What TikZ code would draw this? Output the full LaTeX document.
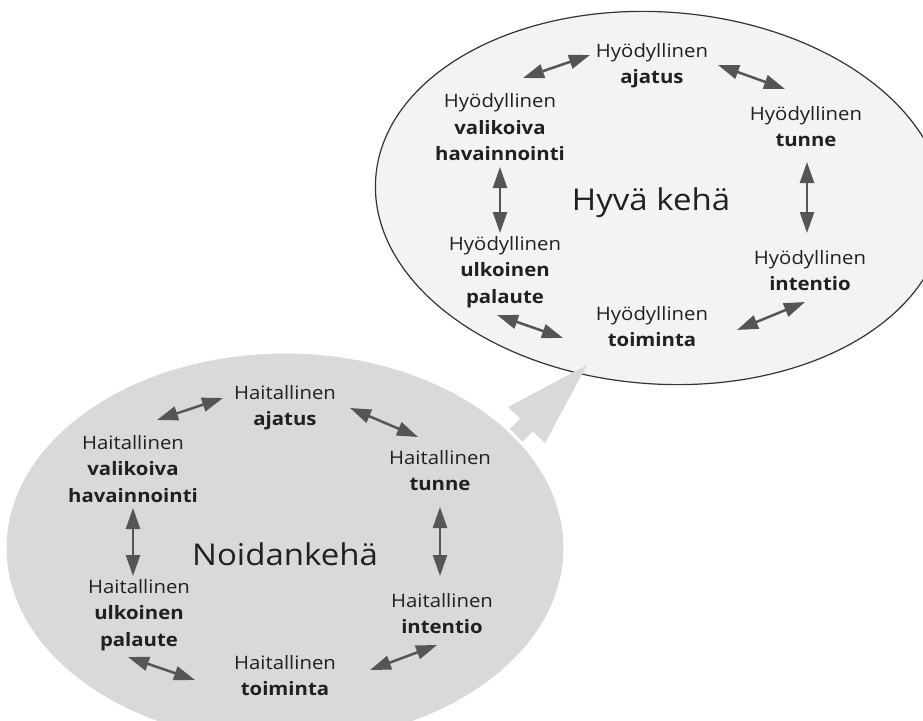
\documentclass[tikz,border=0pt]{standalone}
\usepackage{fontspec}
\setmainfont{Open Sans}[FakeStretch=1.1]
\usetikzlibrary{arrows.meta}

\definecolor{viciousfill}{HTML}{D9D9D9}
\definecolor{virtuousfill}{HTML}{F3F3F3}
\definecolor{linkgray}{HTML}{555555}
\definecolor{inkdark}{HTML}{231F20}

\begin{document}
\begin{tikzpicture}[x=1pt,y=-1pt,
  % anchor=base sits on the baseline of the last line of each label
  lbl/.style={font=\fontsize{18.5}{26.5}\selectfont, align=center,
    inner sep=0pt, text=inkdark, anchor=base},
  ringtitle/.style={font=\fontsize{30}{36}\selectfont, inner sep=0pt,
    text=inkdark, anchor=base},
  link/.style={{Triangle[length=21pt,width=14pt]}-{Triangle[length=21pt,width=14pt]},
    line width=2.5pt, draw=linkgray, fill=linkgray},
]
\fill[white] (0,0) rectangle (923,720);
\useasboundingbox (0,0) rectangle (923,720);
\clip (0,0) rectangle (923,720);

% virtuous circle (upper ellipse)
\draw[line width=1.2pt, draw=black!80, fill=virtuousfill,
      rotate around={-4:(660,198)}]
  (660,198) ellipse [x radius=285pt, y radius=186pt];

% block arrow from the lower ellipse to the upper one
\fill[viciousfill] (587,365) -- (508,407) -- (520.2,418.6) -- (491.8,446.8)
  -- (504.4,459.6) -- (532.8,431.4) -- (545,443) -- cycle;

% vicious circle (lower ellipse); the white rim cuts the arrow shaft
\draw[line width=3pt, draw=white, fill=viciousfill]
  (285,548) ellipse [x radius=280pt, y radius=196pt];

% ---- upper ellipse labels
\node[ringtitle] (hyva) at (651,210) {Hyvä kehä};
\node[lbl] (hA) at (652,83.5)  {Hyödyllinen\\\textbf{ajatus}};
\node[lbl] (hV) at (500,160.5) {Hyödyllinen\\\textbf{valikoiva}\\\textbf{havainnointi}};
\node[lbl] (hT) at (806,146.5) {Hyödyllinen\\\textbf{tunne}};
\node[lbl] (hU) at (505,303)   {Hyödyllinen\\\textbf{ulkoinen}\\\textbf{palaute}};
\node[lbl] (hI) at (810,290.5) {Hyödyllinen\\\textbf{intentio}};
\node[lbl] (hO) at (652,346.5) {Hyödyllinen\\\textbf{toiminta}};

% ---- lower ellipse labels
\node[ringtitle] (noida) at (285,565) {Noidankehä};
\node[lbl] (nA) at (285,425.5) {Haitallinen\\\textbf{ajatus}};
\node[lbl] (nV) at (133,502)   {Haitallinen\\\textbf{valikoiva}\\\textbf{havainnointi}};
\node[lbl] (nT) at (440,490.5) {Haitallinen\\\textbf{tunne}};
\node[lbl] (nU) at (139,646)   {Haitallinen\\\textbf{ulkoinen}\\\textbf{palaute}};
\node[lbl] (nI) at (442,633.5) {Haitallinen\\\textbf{intentio}};
\node[lbl] (nO) at (285,695.5) {Haitallinen\\\textbf{toiminta}};

% ---- arrow end points beside the labels
\coordinate (hVA) at (523,78);  \coordinate (hAV) at (590,55);
\coordinate (hAT) at (718,65);  \coordinate (hTA) at (785,89);
\coordinate (hVU) at (500,167); \coordinate (hUV) at (500,233);
\coordinate (hTI) at (807,162); \coordinate (hIT) at (807,233);
\coordinate (hUO) at (497,315); \coordinate (hOU) at (563,338);
\coordinate (hOI) at (737,330); \coordinate (hIO) at (805,302);

\coordinate (nVA) at (157,420); \coordinate (nAV) at (223,398);
\coordinate (nAT) at (350,408); \coordinate (nTA) at (418,437);
\coordinate (nVU) at (133,508); \coordinate (nUV) at (133,576);
\coordinate (nTI) at (440,507); \coordinate (nIT) at (440,576);
\coordinate (nUO) at (128,657); \coordinate (nOU) at (195,680);
\coordinate (nOI) at (370,670); \coordinate (nIO) at (437,645);

\foreach \a/\b in {hVA/hAV, hAT/hTA, hVU/hUV, hTI/hIT, hUO/hOU, hOI/hIO,
                   nVA/nAV, nAT/nTA, nVU/nUV, nTI/nIT, nUO/nOU, nOI/nIO}
  \draw[link] (\a) -- (\b);
\end{tikzpicture}
\end{document}
